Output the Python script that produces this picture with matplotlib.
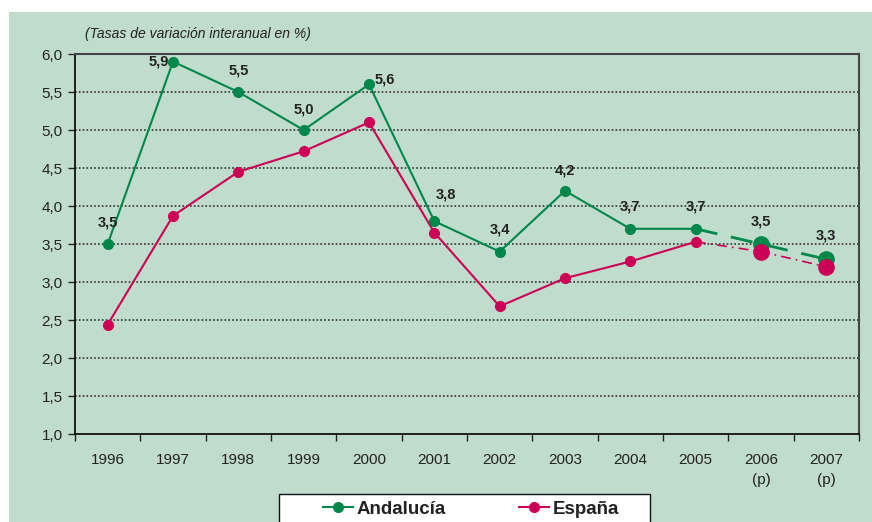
import matplotlib
matplotlib.use("Agg")
import matplotlib.pyplot as plt
from matplotlib.patches import Rectangle
from matplotlib.lines import Line2D

plt.rcParams['font.family'] = ['Liberation Sans', 'DejaVu Sans']

years = ['1996', '1997', '1998', '1999', '2000', '2001', '2002', '2003',
         '2004', '2005', '2006\n(p)', '2007\n(p)']
andalucia = [3.5, 5.9, 5.5, 5.0, 5.6, 3.8, 3.4, 4.2, 3.7, 3.7, 3.5, 3.3]
espana = [2.44, 3.87, 4.45, 4.72, 5.1, 3.65, 2.68, 3.05, 3.27, 3.53, 3.4, 3.2]
and_labels = ['3,5', '5,9', '5,5', '5,0', '5,6', '3,8', '3,4', '4,2', '3,7', '3,7', '3,5', '3,3']
yticks = [1.0, 1.5, 2.0, 2.5, 3.0, 3.5, 4.0, 4.5, 5.0, 5.5, 6.0]

GREEN = '#00874A'
RED = '#CC0055'
BG = '#C0DCCD'

W, H = 872, 522
fig = plt.figure(figsize=(W / 100, H / 100), dpi=100, facecolor='white')
fig.patches.append(Rectangle((9 / W, 0), 1 - 9 / W, 1 - 12 / H, transform=fig.transFigure,
                             facecolor=BG, edgecolor='none', zorder=-10))

ax = fig.add_axes([75 / W, 1 - 434 / H, (859 - 75) / W, (434 - 54) / H])
ax.set_facecolor(BG)
x = list(range(len(years)))
ax.set_xlim(-0.5, len(years) - 0.5)
ax.set_ylim(1.0, 6.0)

for y in yticks[1:-1]:
    ax.axhline(y, color='#333333', lw=1.2, ls=(0, (1, 1.3)), zorder=1)

n_solid = 10
ax.plot(x[:n_solid], espana[:n_solid], color=RED, lw=1.5, marker='o', ms=7, zorder=3)
ax.plot(x[n_solid - 1:], espana[n_solid - 1:], color=RED, lw=1.2, ls=(0, (6, 3, 1, 3)), zorder=3)
ax.plot(x[:n_solid], andalucia[:n_solid], color=GREEN, lw=1.5, marker='o', ms=7, zorder=4)
ax.plot(x[n_solid - 1:], andalucia[n_solid - 1:], color=GREEN, lw=2, ls=(0, (8, 5)), zorder=4)
ax.plot(x[n_solid:], andalucia[n_solid:], ls='none', marker='o', ms=11, color=GREEN, zorder=5)
ax.plot(x[n_solid:], espana[n_solid:], ls='none', marker='o', ms=11, color=RED, zorder=6)

offsets = [(0.0, 0.28), (-0.22, 0.0), (0.0, 0.28), (0.0, 0.27), (0.24, 0.06), (0.18, 0.35),
           (0.0, 0.29), (0.0, 0.27), (0.0, 0.29), (0.0, 0.29), (0.0, 0.3), (0.0, 0.31)]
for i, (v, lab) in enumerate(zip(andalucia, and_labels)):
    dx, dy = offsets[i]
    ax.text(x[i] + dx, v + dy, lab, ha='center', va='center', fontsize=10.5,
            fontweight='bold', color='#222222', zorder=7)

ax.set_yticks(yticks)
ax.set_yticklabels([f'{v:.1f}'.replace('.', ',') for v in yticks], fontsize=11, color='#222222')
ax.set_xticks(x)
ax.set_xticklabels(years, fontsize=11, color='#222222', linespacing=1.5)
ax.set_xticks([i - 0.5 for i in range(len(years) + 1)], minor=True)
ax.tick_params(axis='x', which='major', length=0, pad=14)
ax.tick_params(axis='x', which='minor', length=5, width=1, color='#222222', direction='out')
ax.tick_params(axis='y', length=5, width=1, color='#222222', pad=4)

for s in ['left', 'bottom']:
    ax.spines[s].set_color('#111111')
    ax.spines[s].set_linewidth(1.3)
for s in ['top', 'right']:
    ax.spines[s].set_color('#444444')
    ax.spines[s].set_linewidth(1.5)

fig.text(85 / W, 1 - 34 / H, '(Tasas de variación interanual en %)', fontsize=10,
         style='italic', color='#222222', va='center', ha='left')

# legend frame (extends past the bottom edge, as in the reference)
fig.patches.append(Rectangle((279 / W, -10 / H), (650 - 279) / W, (522 - 494 + 10) / H,
                             transform=fig.transFigure, facecolor='white',
                             edgecolor='#111111', lw=1.0, zorder=5))

handles = [Line2D([], [], color=GREEN, marker='o', ms=7, lw=1.5),
           Line2D([], [], color=RED, marker='o', ms=7, lw=1.5)]
leg = fig.legend(handles, ['Andalucía', 'España'], loc='center',
                 bbox_to_anchor=(471 / W, 1 - 509 / H), ncol=2, frameon=False,
                 handlelength=1.6, handletextpad=0.2, columnspacing=3.9, borderpad=0.0,
                 prop={'size': 13.5, 'weight': 'bold'})
leg.set_zorder(6)
for t in leg.get_texts():
    t.set_color('#222222')

fig.savefig('out.png', dpi=100, facecolor='white')
